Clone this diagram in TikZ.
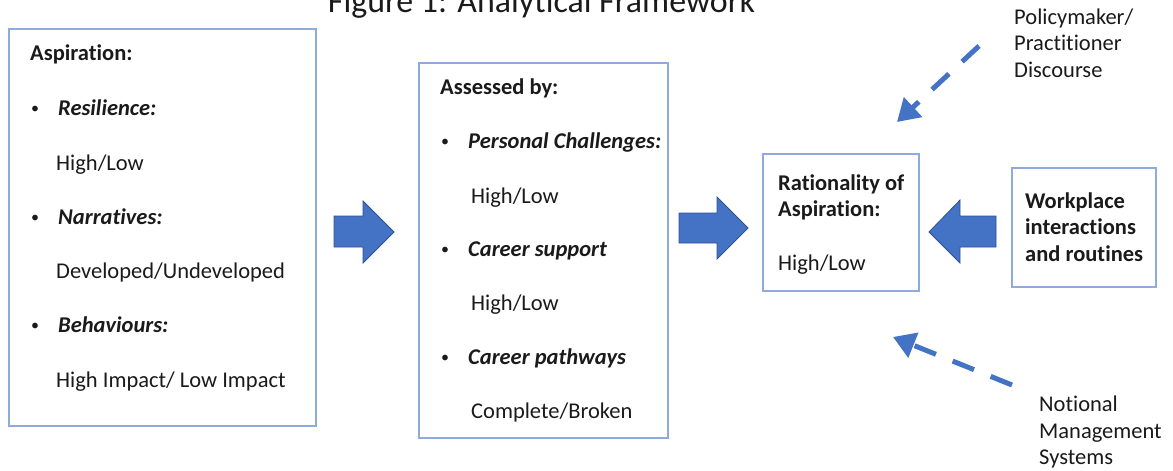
\documentclass[tikz,border=0pt]{standalone}
\usepackage{fontspec}
\setmainfont{Carlito}[Ligatures=NoCommon,RawFeature={-liga;-clig;-calt}]
\usetikzlibrary{arrows.meta}
\definecolor{boxline}{HTML}{8FAADC}
\definecolor{arrowfill}{HTML}{4472C4}
\definecolor{arrowline}{HTML}{2F528F}
\definecolor{txt}{HTML}{1A1A1A}
\begin{document}
\begin{tikzpicture}[x=1pt,y=-1pt,
  frame/.style={draw=boxline,line width=2pt},
  txtline/.style={anchor=base west,inner sep=0pt,text=txt,font=\fontsize{22.5}{27}\selectfont},
  head/.style={txtline,font=\fontsize{22.5}{27}\selectfont\bfseries},
  item/.style={txtline,font=\fontsize{22.5}{27}\selectfont\bfseries\itshape},
  dot/.style={txtline,font=\fontsize{16}{20}\selectfont},
  blockarrow/.style={fill=arrowfill,draw=arrowline,line width=0.8pt,line join=miter},
  dasharrow/.style={draw=arrowfill,line width=5pt,dash pattern=on 23pt off 18pt,
    -{Triangle[length=22pt,width=26pt]}}
]
\useasboundingbox (0,0) rectangle (1173,471);
\clip (0,0) rectangle (1173,471);

% title, partly above the top edge
\node[anchor=base,inner sep=0pt,text=txt,font=\fontsize{33.9}{40}\selectfont] (title) at (541.5,12.7) {Figure 1: Analytical Framework};

% frames
\draw[frame] (9,29) rectangle (316,426);
\draw[frame] (419,63) rectangle (668,438);
\draw[frame] (763,154) rectangle (919,291);
\draw[frame] (1012,168) rectangle (1156,287);

% first column: aspiration
\node[head] (asp) at (30,60) {Aspiration:};
\node[dot] (b1) at (31,113) {•};
\node[item] (res) at (58,115) {Resilience:};
\node[txtline] (resv) at (56,170) {High/Low};
\node[dot] (b2) at (31,222) {•};
\node[item] (nar) at (58,224) {Narratives:};
\node[txtline] (narv) at (56,278) {Developed/Undeveloped};
\node[dot] (b3) at (31,330) {•};
\node[item] (beh) at (58,332) {Behaviours:};
\node[txtline] (behv) at (56,387) {High Impact/ Low Impact};

% second column: assessed by
\node[head] (ass) at (440,94) {Assessed by:};
\node[dot] (c1) at (441,146) {•};
\node[item] (pc) at (468,148) {Personal Challenges:};
\node[txtline] (pcv) at (471,203) {High/Low};
\node[dot] (c2) at (441,254) {•};
\node[item] (cs) at (468,256) {Career support};
\node[txtline] (csv) at (471,310) {High/Low};
\node[dot] (c3) at (441,362) {•};
\node[item] (cp) at (468,364) {Career pathways};
\node[txtline] (cpv) at (471,418) {Complete/Broken};

% rationality box
\node[head] (rat1) at (778,190) {Rationality of};
\node[head] (rat2) at (778,216) {Aspiration:};
\node[txtline] (ratv) at (778,270) {High/Low};

% workplace box
\node[head] (wp1) at (1025,208) {Workplace};
\node[head] (wp2) at (1025,234) {interactions};
\node[head] (wp3) at (1025,261) {and routines};

% outside influences
\node[txtline] (pol1) at (1014,24) {Policymaker/};
\node[txtline] (pol2) at (1014,50) {Practitioner};
\node[txtline] (pol3) at (1014,77) {Discourse};
\node[txtline] (not1) at (1039,411) {Notional};
\node[txtline] (not2) at (1039,438) {Management};
\node[txtline] (not3) at (1039,464) {Systems};

% block arrows
\draw[blockarrow] (334,216) -- (363,216) -- (363,201) -- (394,232) -- (363,263) -- (363,247) -- (334,247) -- cycle;
\draw[blockarrow] (679,213) -- (717,213) -- (717,197) -- (748,228) -- (717,259) -- (717,243) -- (679,243) -- cycle;
\draw[blockarrow] (996,216) -- (960,216) -- (960,200) -- (929,232) -- (960,263) -- (960,247) -- (996,247) -- cycle;

% dashed influence arrows
\coordinate (polstart) at (979,46);
\coordinate (polend) at (897,122);
\coordinate (notstart) at (1012,385);
\coordinate (notend) at (893,337);
\draw[dasharrow] (polstart) -- (polend);
\draw[dasharrow] (notstart) -- (notend);
\end{tikzpicture}
\end{document}
